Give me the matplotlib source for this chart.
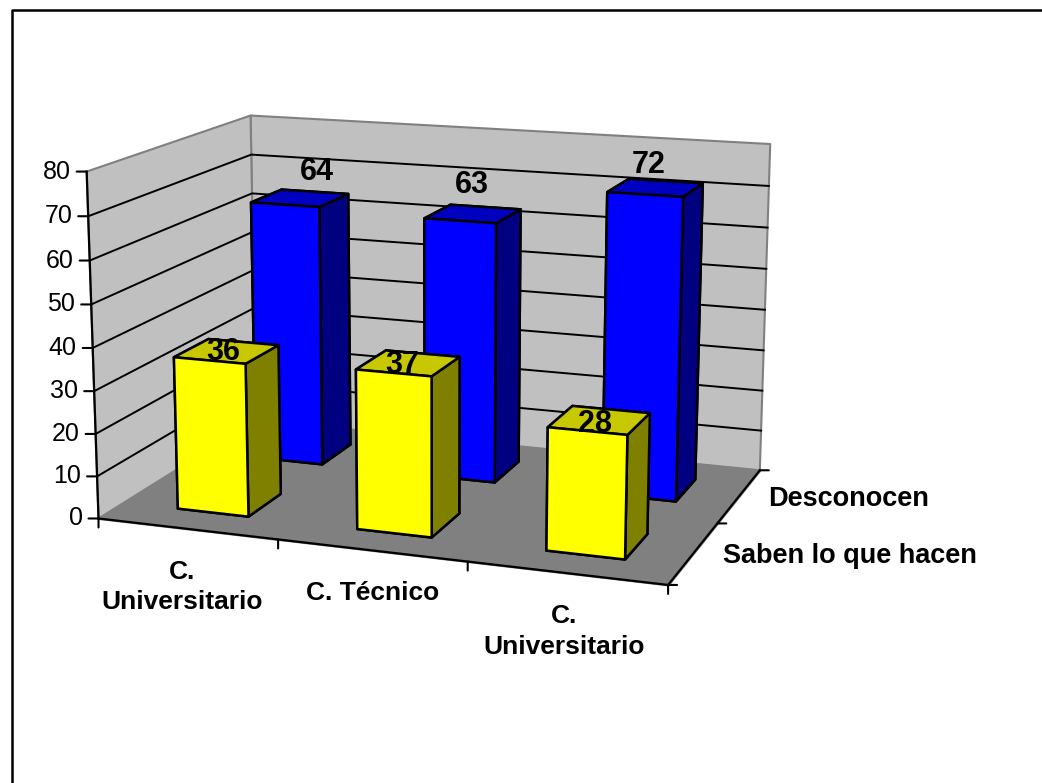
import numpy as np
import matplotlib
matplotlib.use('Agg')
import matplotlib.pyplot as plt
from mpl_toolkits.mplot3d import proj3d
from mpl_toolkits.mplot3d.art3d import Poly3DCollection

W, H = 1042, 783

categories = ['C.\nUniversitario', 'C. Técnico', 'C.\nUniversitario']
series_names = ['Saben lo que hacen', 'Desconocen']
saben = [36, 37, 28]
desconocen = [64, 63, 72]
z_ticks = [0, 10, 20, 30, 40, 50, 60, 70, 80]

bar_w = 0.4
bar_d = 0.42

# label nudges in pixels, excel does not place these evenly
saben_nudge = [(-2, -1), (-4, -2), (-2, -4)]
desconocen_nudge = [(18, 26), (1, 29), (-5, 23)]
category_nudge = [(-5, -31), (1, -31), (-2, -31)]

plt.rcParams['font.family'] = ['Liberation Sans', 'DejaVu Sans']
fig = plt.figure(figsize=(W / 100, H / 100), dpi=100, facecolor='white')
ax = fig.add_subplot(projection='3d', computed_zorder=False)
ax.set_xlim(0, 3, view_margin=0)
ax.set_ylim(0, 2, view_margin=0)
ax.set_zlim(0, 80, view_margin=0)
ax.view_init(elev=13.4881, azim=-70.2405)
ax.set_proj_type('persp', focal_length=0.6023)
ax.set_box_aspect((1, 0.6608, 0.5995))
ax.set_position([54.51 / W, 69.49 / H, 750.24 / W, 750.24 / H])
ax.set_axis_off()
ax.patch.set_alpha(0)
M = ax.get_proj()


def to2d(x, y, z):
    px, py, _ = proj3d.proj_transform(x, y, z, M)
    return px, py


def tick(x, y, z, dx, dy):
    ax.annotate('', xy=to2d(x, y, z), xytext=(dx, dy), textcoords='offset pixels', zorder=3,
                arrowprops=dict(arrowstyle='-', color='black', lw=1.5, shrinkA=0, shrinkB=0))


# walls and floor
left_wall = [(0, 0, 0), (0, 2, 0), (0, 2, 80), (0, 0, 80)]
back_wall = [(0, 2, 0), (3, 2, 0), (3, 2, 80), (0, 2, 80)]
floor = [(0, 0, 0), (3, 0, 0), (3, 2, 0), (0, 2, 0)]
ax.add_collection3d(Poly3DCollection([left_wall, back_wall], facecolors='#C0C0C0', edgecolors='#808080',
                                     linewidths=1.5, zorder=1))
ax.add_collection3d(Poly3DCollection([floor], facecolors='#808080', edgecolors='#808080',
                                     linewidths=1.5, zorder=1))

# gridlines
for v in z_ticks[1:-1]:
    ax.plot([0, 0, 3], [0, 2, 2], [v, v, v], color='black', lw=1.4, zorder=2)

# axis lines
ax.plot([0, 0], [0, 0], [0, 80], color='black', lw=1.6, zorder=2)
ax.plot([0, 3, 3], [0, 0, 2], [0, 0, 0], color='black', lw=1.6, zorder=2)

# bars, back row first
xpos = np.arange(3) + (1 - bar_w) / 2 + 0.01
ax.bar3d(xpos, np.full(3, 1 + (1 - bar_d) / 2), np.zeros(3), bar_w, bar_d, desconocen,
         color=['#0000FF', '#0000C0', '#0000FF', '#0000FF', '#000080', '#000080'] * 3,
         edgecolor='black', linewidth=1.8, shade=False, zorder=4)
ax.bar3d(xpos, np.full(3, (1 - bar_d) / 2), np.zeros(3), bar_w, bar_d, saben,
         color=['#FFFF00', '#C8C800', '#FFFF00', '#FFFF00', '#808000', '#808000'] * 3,
         edgecolor='black', linewidth=1.8, shade=False, zorder=5)

# ticks and labels
for v in z_ticks:
    tick(0, 0, v, -10, 0)
    ax.annotate(str(v), xy=to2d(0, 0, v), xytext=(-16, 0), textcoords='offset pixels',
                ha='right', va='center', fontsize=18, color='black', zorder=6)
for i in range(4):
    tick(i, 0, 0, 0, -9)
for i, name in enumerate(categories):
    ax.annotate(name, xy=to2d(i + 0.5, 0, 0), xytext=category_nudge[i], textcoords='offset pixels',
                ha='center', va='top', fontsize=19, fontweight='bold', color='black',
                linespacing=1.34, zorder=6)
for i in range(3):
    tick(3, i, 0, 9, 0)
for i, name in enumerate(series_names):
    ax.annotate(name, xy=to2d(3, i + 0.5, 0), xytext=(29, -3), textcoords='offset pixels',
                ha='left', va='center', fontsize=19.5, fontweight='bold', color='black', zorder=6)

# data labels
for i in range(3):
    ax.annotate(str(saben[i]), xy=to2d(i + 0.5, 0.5, saben[i]), xytext=saben_nudge[i], textcoords='offset pixels',
                ha='center', va='center', fontsize=22, fontweight='bold', color='black', zorder=7)
    ax.annotate(str(desconocen[i]), xy=to2d(i + 0.5, 1.5, desconocen[i]), xytext=desconocen_nudge[i],
                textcoords='offset pixels', ha='center', va='center', fontsize=22, fontweight='bold',
                color='black', zorder=7)

# outer frame, only top and left are in the picture
fig.add_artist(plt.Line2D([11.5 / W, 11.5 / W, 1], [0, (H - 10) / H, (H - 10) / H], color='black', lw=1.8))

fig.savefig('out.png', dpi=100)
